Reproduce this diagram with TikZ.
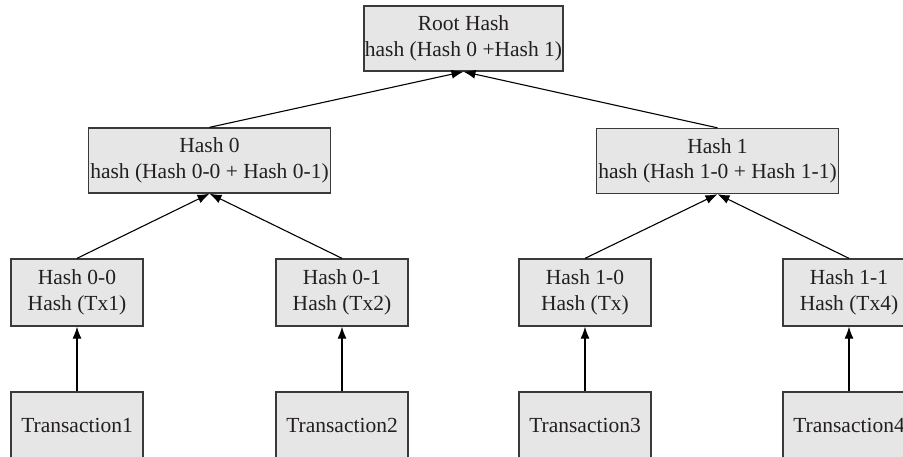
\documentclass[tikz,border=0pt]{standalone}
\usepackage{fontspec}
\setmainfont{Liberation Serif}
\usetikzlibrary{arrows.meta}
\definecolor{boxfill}{HTML}{E6E6E7}
\definecolor{boxline}{HTML}{3A3A3A}
\definecolor{txt}{HTML}{231F20}
\begin{document}
\begin{tikzpicture}[x=1pt,y=-1pt,
  hbox/.style={draw=boxline, fill=boxfill, line width=1.3pt, inner sep=0pt,
    align=center, text=txt, font=\fontsize{21.5}{25.5}\selectfont},
  topbox/.style={hbox, minimum width=199pt, minimum height=65pt},
  midbox/.style={hbox, minimum width=242pt, minimum height=65pt},
  leafbox/.style={hbox, minimum width=132pt, minimum height=67pt},
  conn/.style={line width=1.1pt, draw=black, -{Latex[length=12pt,width=9pt]}}
]
\useasboundingbox (0,0) rectangle (903,457);
\clip (0,0) rectangle (903,457);

\node[topbox] (root) at (463.5,38.5) {Root Hash\\hash (Hash 0 +Hash 1)};
\node[midbox] (h0) at (209.5,160.5) {Hash 0\\hash (Hash 0-0 + Hash 0-1)};
\node[midbox] (h1) at (717.5,161) {Hash 1\\hash (Hash 1-0 + Hash 1-1)};

\node[leafbox] (h00) at (77,292.5) {Hash 0-0\\Hash (Tx1)};
\node[leafbox] (h01) at (342,292.5) {Hash 0-1\\Hash (Tx2)};
\node[leafbox] (h10) at (585,292.5) {Hash 1-0\\Hash (Tx)};
\node[leafbox] (h11) at (849,292.5) {Hash 1-1\\Hash (Tx4)};

\node[leafbox] (t1) at (77,425.5) {Transaction1};
\node[leafbox] (t2) at (342,425.5) {Transaction2};
\node[leafbox] (t3) at (585,425.5) {Transaction3};
\node[leafbox] (t4) at (849,425.5) {Transaction4};

\draw[conn] (h0.north) -- (root.south);
\draw[conn] (h1.north) -- (root.south);
\draw[conn] (h00.north) -- (h0.south);
\draw[conn] (h01.north) -- (h0.south);
\draw[conn] (h10.north) -- (h1.south);
\draw[conn] (h11.north) -- (h1.south);
\draw[conn] (t1.north) -- (h00.south);
\draw[conn] (t2.north) -- (h01.south);
\draw[conn] (t3.north) -- (h10.south);
\draw[conn] (t4.north) -- (h11.south);
\end{tikzpicture}
\end{document}
